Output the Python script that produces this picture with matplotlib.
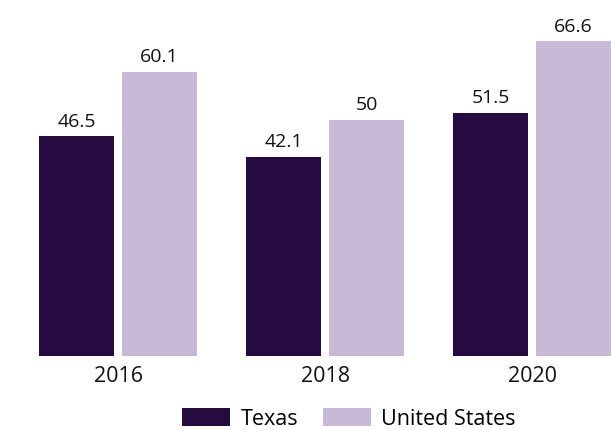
import numpy as np
import matplotlib.pyplot as plt

years = ["2016", "2018", "2020"]
texas = [46.5, 42.1, 51.5]
united_states = [60.1, 50, 66.6]

plt.rcParams["font.family"] = ["Open Sans", "DejaVu Sans"]

fig = plt.figure(figsize=(6.11, 4.30), dpi=100)
ax = fig.add_axes([0, 74 / 430, 1, 356 / 430])

x = np.arange(len(years))
w = 0.362
b1 = ax.bar(x - 0.2, texas, w, color="#260b40", label="Texas")
b2 = ax.bar(x + 0.2, united_states, w, color="#c8b9d6", label="United States")

ax.bar_label(b1, labels=[f"{v:g}" for v in texas], padding=4, fontsize=14, color="#111111")
ax.bar_label(b2, labels=[f"{v:g}" for v in united_states], padding=4, fontsize=14, color="#111111")

ax.set_xlim(-0.570, 2.381)
ax.set_ylim(0, 75.3)
ax.set_xticks(x)
ax.set_xticklabels(years, fontsize=15.5, color="#111111")
ax.tick_params(axis="x", length=0, pad=7.5)
ax.set_yticks([])
for s in ax.spines.values():
    s.set_visible(False)

fig.legend(loc="center", bbox_to_anchor=(0.571, 0.026), ncol=2, frameon=False,
           fontsize=15.5, handlelength=2.23, handleheight=0.93, handletextpad=0.47,
           columnspacing=1.16, borderpad=0, borderaxespad=0)

fig.savefig("out.png", dpi=100)
